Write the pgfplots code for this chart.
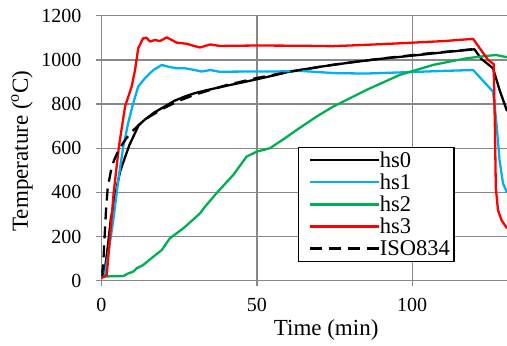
\documentclass[border=0pt]{standalone}
\usepackage{pgfplots}
\pgfplotsset{compat=1.18}
\usepackage{fontspec}
\setmainfont{Liberation Serif}
\definecolor{gridgray}{RGB}{136,136,136}
\definecolor{hsblue}{RGB}{0,176,240}
\definecolor{hsgreen}{RGB}{0,176,80}
\definecolor{hsred}{RGB}{255,0,0}
\newcommand{\lgf}{\rmfamily\fontsize{22.5}{23}\selectfont}
\begin{document}
\begin{tikzpicture}
\begin{axis}[name=ax,
  scale only axis, width=405.5pt, height=265pt,
  xmin=0, xmax=130.5, ymin=0, ymax=1200,
  xtick={0,50,100}, ytick={0,200,400,600,800,1000,1200},
  axis lines*=left,
  axis line style={-, draw=gridgray, line width=1.3pt},
  grid=major, major grid style={draw=gridgray, line width=1.3pt},
  tick style={draw=gridgray, line width=1.3pt},
  tick align=outside, major tick length=5pt,
  /pgf/number format/assume math mode=true,
  /pgf/number format/1000 sep={},
  ticklabel style={font=\rmfamily\fontsize{20}{20}\selectfont, inner sep=0pt},
  yticklabel style={anchor=east, xshift=-14.8pt},
  xticklabel style={anchor=north, yshift=-12.5pt},
  xlabel={Time (min)},
  ylabel={Temperature (\textsuperscript{o}C)},
  label style={font=\rmfamily\fontsize{23}{23}\selectfont},
  xlabel style={at={(axis description cs:0.554,-0.205)}, anchor=base},
  ylabel style={at={(axis description cs:-0.196,0.489)}, anchor=center},
  legend image code/.code={\path (0pt,0pt); \draw[#1] (6pt,0pt) -- (75pt,0pt);},
  legend style={at={(axis description cs:0.4846,0.5045)}, anchor=north west,
    draw=black, line width=1.3pt, inner xsep=4pt, inner ysep=1.5pt,
    font=\lgf,
    nodes={inner sep=0pt, text height=18.2pt, text depth=3.9pt},
    cells={anchor=west}},
  legend cell align=left,
  every axis plot/.append style={line width=2.3pt, line join=round},
]
\addplot[black] coordinates {
(0,15) (0.8,20) (2,150) (3,280) (4,350) (5,430) (6,495) (7.6,560) (9,615) (10.5,660)
(12,705) (14,730) (17,762) (20.5,790) (23.5,815) (27,835) (30,849) (33.3,861) (40,882)
(47.7,905) (55,928) (60.6,947) (70,968) (80,988) (90,1005) (100,1019) (110,1034)
(120,1048) (122.2,1005) (126,962) (128.1,864) (130.5,768)};
\addlegendentry{\lgf hs0}
\addplot[hsblue] coordinates {
(0,15) (1,20) (2.2,124) (3.8,275) (5.4,456) (7,607) (8.6,715) (10.2,803) (11.8,879)
(14,917) (16.7,954) (19.4,977) (21.5,969) (24.2,962) (26.8,962) (30,954) (32.2,947)
(35,954) (38,946) (45,947) (55,947) (64,950) (75,940) (85,938) (100,945) (110,950)
(119.6,954) (122.8,905) (126,856) (127,728) (128.1,547) (129.2,441) (130.5,400)};
\addlegendentry{\lgf hs1}
\addplot[hsgreen] coordinates {
(0,18) (3,20) (7,21) (8.6,33) (10.2,41) (11.3,56) (13.4,71) (16.7,109) (19.4,139)
(22,192) (26.3,237) (30,283) (31.7,305) (33.3,335) (37,396) (42.4,479) (46.7,562)
(49.9,584) (54.2,600) (58.5,640) (63.8,692) (69.2,743) (74.5,788) (79.9,826)
(85.3,864) (96,932) (106.7,977) (117.4,1007) (123.9,1018) (127,1022) (130.5,1012)};
\addlegendentry{\lgf hs2}
\addplot[hsred] coordinates {
(0,12) (1.7,25) (3.9,396) (5.6,607) (7.6,790) (9.7,879) (10.8,954) (11.8,1052)
(13.4,1098) (14.5,1100) (15.6,1083) (17.2,1090) (18.8,1085) (21,1102) (22.6,1090)
(24.2,1078) (27.4,1073) (30,1062) (31.7,1056) (35,1070) (38,1063) (50,1065)
(63.8,1064) (74.5,1062) (85,1068) (96,1075) (110,1085) (119.6,1095) (124.4,1000)
(126.2,981) (126.6,700) (126.9,420) (127.6,320) (128.7,275) (130.5,237)};
\addlegendentry{\lgf hs3}
\addplot[black, dash pattern=on 12pt off 7pt] coordinates {
(0,20) (0.5,60) (1,200) (1.5,330) (2,420) (3,495) (4,544) (5,576) (6,603) (8,645)
(10,678) (12,705) (15,739) (20,781) (25,815) (30,842) (40,885) (50,918) (60,945)
(75,979) (90,1006) (105,1029) (120,1049)};
\addlegendentry{\lgf ISO834}
\end{axis}
\pgfresetboundingbox
\path[use as bounding box] ([xshift=-101.5pt,yshift=-64.3pt]ax.south west) rectangle ([yshift=15.7pt]ax.north east);
\end{tikzpicture}
\end{document}
